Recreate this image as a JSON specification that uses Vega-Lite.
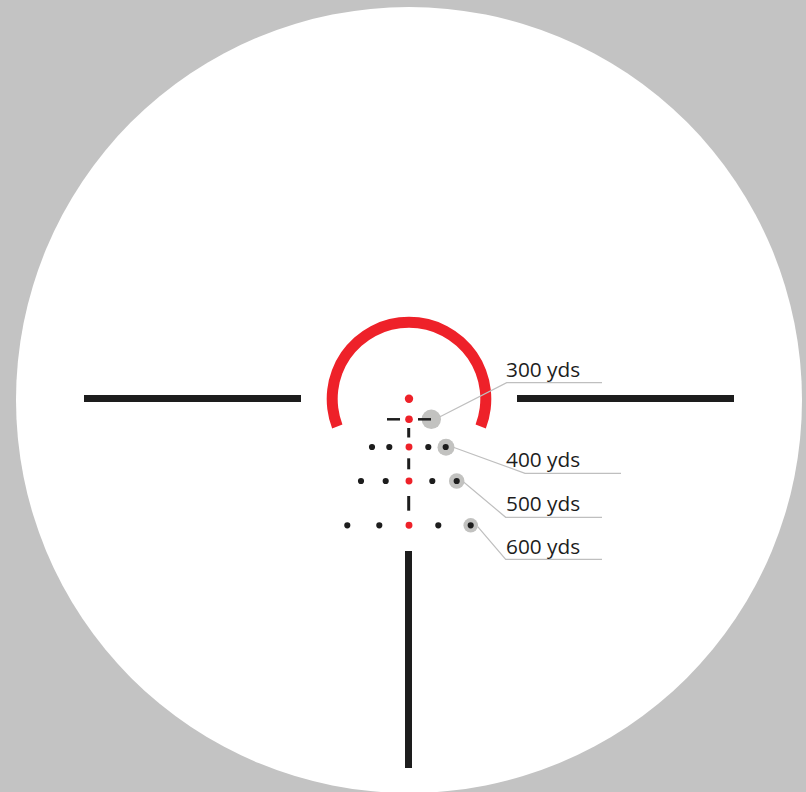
{"$schema":"https://vega.github.io/schema/vega-lite/v6.json","width":806,"height":792,"autosize":{"type":"none"},"padding":0,"background":"#c3c3c3","view":{"stroke":null},"config":{"axis":{"domain":false,"ticks":false,"labels":false,"grid":false,"title":null}},
"encoding":{"x":{"field":"x","type":"quantitative","scale":{"domain":[0,806],"nice":false,"zero":false},"axis":null},"y":{"field":"y","type":"quantitative","scale":{"domain":[792,0],"nice":false,"zero":false},"axis":null}},
"layer":[
{"data":{"values":[{"x":409,"y":400}]},"mark":{"type":"point","filled":true,"opacity":1,"size":617796,"color":"#ffffff","strokeWidth":0}},
{"data":{"values":[{"x":409,"y":399}]},"mark":{"type":"arc","radius":82.3,"radius2":71.3,"theta":-1.937,"theta2":1.937,"color":"#ee2129"}},
{"data":{"values":[{"x":84,"x2":301,"y":398.5},{"x":517,"x2":734,"y":398.5}]},"mark":{"type":"rule","strokeWidth":7,"color":"#1d1d1d"},"encoding":{"x2":{"field":"x2"}}},
{"data":{"values":[{"x":408.5,"y":551,"y2":768}]},"mark":{"type":"rule","strokeWidth":7,"color":"#1d1d1d"},"encoding":{"y2":{"field":"y2"}}},
{"data":{"values":[{"x":431.3,"y":419.3}]},"mark":{"type":"point","filled":true,"opacity":1,"size":376,"color":"#c2c2c0","strokeWidth":0}},
{"data":{"values":[{"x":446,"y":447.3}]},"mark":{"type":"point","filled":true,"opacity":1,"size":289,"color":"#c2c2c0","strokeWidth":0}},
{"data":{"values":[{"x":456.7,"y":481}]},"mark":{"type":"point","filled":true,"opacity":1,"size":240,"color":"#c2c2c0","strokeWidth":0}},
{"data":{"values":[{"x":470.7,"y":525.3}]},"mark":{"type":"point","filled":true,"opacity":1,"size":210,"color":"#c2c2c0","strokeWidth":0}},
{"data":{"values":[{"x":387,"x2":400,"y":419.3},{"x":418,"x2":431,"y":419.3}]},"mark":{"type":"rule","strokeWidth":2.5,"color":"#1d1d1d"},"encoding":{"x2":{"field":"x2"}}},
{"data":{"values":[{"x":408.7,"y":428,"y2":437.5},{"x":408.7,"y":458.3,"y2":469.3},{"x":408.7,"y":496,"y2":510.7}]},"mark":{"type":"rule","strokeWidth":3,"color":"#1d1d1d"},"encoding":{"y2":{"field":"y2"}}},
{"data":{"values":[{"x":372,"y":447},{"x":389.3,"y":447},{"x":428.3,"y":447},{"x":445.7,"y":447},{"x":361,"y":481},{"x":385.7,"y":481},{"x":432.3,"y":481},{"x":456.7,"y":481},{"x":347.3,"y":525.3},{"x":379.3,"y":525.3},{"x":438.3,"y":525.3},{"x":470.7,"y":525.3}]},"mark":{"type":"point","filled":true,"opacity":1,"size":38,"color":"#1d1d1d","strokeWidth":0}},
{"data":{"values":[{"x":409,"y":398.7}]},"mark":{"type":"point","filled":true,"opacity":1,"size":70,"color":"#ee2129","strokeWidth":0}},
{"data":{"values":[{"x":409,"y":419.3}]},"mark":{"type":"point","filled":true,"opacity":1,"size":58,"color":"#ee2129","strokeWidth":0}},
{"data":{"values":[{"x":409,"y":447},{"x":409,"y":481},{"x":409,"y":525.3}]},"mark":{"type":"point","filled":true,"opacity":1,"size":48,"color":"#ee2129","strokeWidth":0}},
{"data":{"values":[
{"k":"300","i":1,"x":440,"y":416.7},{"k":"300","i":2,"x":506.7,"y":382.7},{"k":"300","i":3,"x":602,"y":382.7},
{"k":"400","i":1,"x":453.3,"y":447.3},{"k":"400","i":2,"x":525,"y":473.3},{"k":"400","i":3,"x":621,"y":473.3},
{"k":"500","i":1,"x":463.3,"y":481.7},{"k":"500","i":2,"x":505.7,"y":517.3},{"k":"500","i":3,"x":602,"y":517.3},
{"k":"600","i":1,"x":477.7,"y":526.7},{"k":"600","i":2,"x":505.7,"y":559.3},{"k":"600","i":3,"x":602,"y":559.3}]},
"mark":{"type":"line","strokeWidth":1.2,"color":"#bfbfbf"},"encoding":{"detail":{"field":"k"},"order":{"field":"i","type":"quantitative"}}},
{"data":{"values":[{"x":506,"y":376.7,"t":"300 yds"},{"x":506,"y":466.7,"t":"400 yds"},{"x":506,"y":511,"t":"500 yds"},{"x":506,"y":554,"t":"600 yds"}]},"mark":{"type":"text","align":"left","baseline":"alphabetic","font":"Open Sans","fontSize":20.8,"color":"#1d1d1d"},"encoding":{"text":{"field":"t"}}}
]}
